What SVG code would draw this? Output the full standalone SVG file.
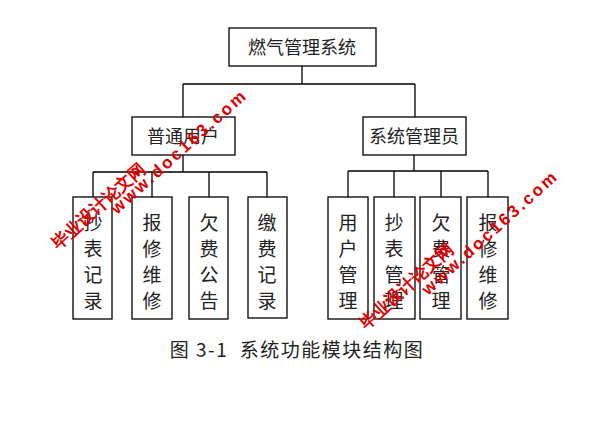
<svg xmlns="http://www.w3.org/2000/svg" width="616" height="431" viewBox="0 0 616 431">
<style>
.b{fill:#fff;stroke:#000;stroke-width:1.3}
.t{font-family:"Noto Sans CJK SC",sans-serif;font-size:18px;fill:#222;text-anchor:middle}
.v{font-family:"Noto Sans CJK SC",sans-serif;font-size:19px;fill:#222;text-anchor:middle}
.c{fill:none;stroke:#000;stroke-width:1.3}
.w{font-family:"Liberation Sans",sans-serif;font-weight:bold;fill:#d00;font-size:17px}
</style>
<rect width="616" height="431" fill="#fff"/>
<g id="connectors" class="c">
<path d="M302 66V84M183 84H415M183 84V117M415 84V117"/>
<path d="M183 155V172M93 172H267M93 172V197M152 172V197M209 172V197M267 172V197"/>
<path d="M414 155V171M348 171H488M348 171V197M394 171V197M441 171V197M488 171V197"/>
</g>
<g id="root"><rect class="b" x="229" y="28" width="147" height="38"/><text class="t" x="302" y="54">燃气管理系统</text></g>
<g id="user"><rect class="b" x="132" y="117" width="103" height="38"/><text class="t" x="183" y="143">普通用户</text></g>
<g id="admin"><rect class="b" x="363" y="117" width="103" height="38"/><text class="t" x="414" y="143">系统管理员</text></g>
<g id="l1"><rect class="b" x="73" y="197" width="39" height="122"/><text class="v" x="93"><tspan x="93" y="230">抄</tspan><tspan x="93" y="256">表</tspan><tspan x="93" y="282">记</tspan><tspan x="93" y="308">录</tspan></text></g>
<g id="l2"><rect class="b" x="132" y="197" width="40" height="122"/><text class="v"><tspan x="152" y="230">报</tspan><tspan x="152" y="256">修</tspan><tspan x="152" y="282">维</tspan><tspan x="152" y="308">修</tspan></text></g>
<g id="l3"><rect class="b" x="189" y="197" width="39" height="122"/><text class="v"><tspan x="209" y="230">欠</tspan><tspan x="209" y="256">费</tspan><tspan x="209" y="282">公</tspan><tspan x="209" y="308">告</tspan></text></g>
<g id="l4"><rect class="b" x="248" y="197" width="39" height="121"/><text class="v"><tspan x="267" y="230">缴</tspan><tspan x="267" y="256">费</tspan><tspan x="267" y="282">记</tspan><tspan x="267" y="308">录</tspan></text></g>
<g id="r1"><rect class="b" x="328" y="197" width="40" height="122"/><text class="v"><tspan x="348" y="230">用</tspan><tspan x="348" y="256">户</tspan><tspan x="348" y="282">管</tspan><tspan x="348" y="308">理</tspan></text></g>
<g id="r2"><rect class="b" x="374" y="197" width="41" height="122"/><text class="v"><tspan x="394" y="230">抄</tspan><tspan x="394" y="256">表</tspan><tspan x="394" y="282">管</tspan><tspan x="394" y="308">理</tspan></text></g>
<g id="r3"><rect class="b" x="420" y="197" width="41" height="122"/><text class="v"><tspan x="441" y="230">欠</tspan><tspan x="441" y="256">费</tspan><tspan x="441" y="282">管</tspan><tspan x="441" y="308">理</tspan></text></g>
<g id="r4"><rect class="b" x="467" y="197" width="41" height="122"/><text class="v"><tspan x="488" y="230">报</tspan><tspan x="488" y="256">修</tspan><tspan x="488" y="282">维</tspan><tspan x="488" y="308">修</tspan></text></g>
<text x="297" y="357" font-family="Noto Sans CJK SC,sans-serif" font-size="19" letter-spacing="1.5" fill="#222" text-anchor="middle" xml:space="preserve">图 3-1  系统功能模块结构图</text>
<g id="watermark">
<text class="w" transform="translate(58,250) rotate(-42)">毕业设计论文网</text>
<text class="w" transform="translate(117,215) rotate(-42)" letter-spacing="2.5">www.doc163.com</text>
<text class="w" transform="translate(366,330) rotate(-42)">毕业设计论文网</text>
<text class="w" transform="translate(428,296) rotate(-42)" letter-spacing="2.5">www.doc163.com</text>
</g>
</svg>
